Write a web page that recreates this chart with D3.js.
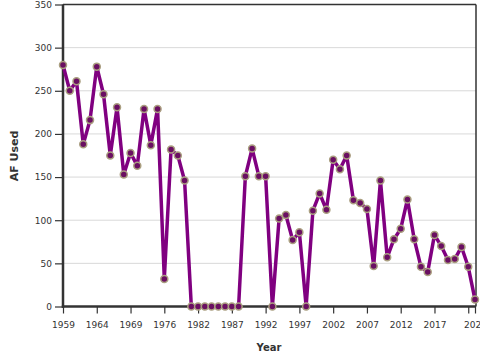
<!DOCTYPE html>
<html>
<head>
<meta charset="utf-8">
<script src="https://cdn.jsdelivr.net/npm/d3@7"></script>
<style>
  body { margin: 0; background: #fff; }
  svg { display: block; font-family: "DejaVu Sans", Verdana, sans-serif; }
</style>
</head>
<body>
<svg id="chart" width="480" height="360"></svg>
<script>
// years shown on the chart (a few early years are missing in the source)
var years = [1959, 1960, 1961, 1962, 1963, 1964, 1965, 1966, 1967, 1968, 1969,
  1970, 1972, 1973, 1975, 1976, 1977, 1978, 1979, 1981,
  1982, 1983, 1984, 1985, 1986, 1987, 1988, 1989, 1990, 1991, 1992, 1993, 1994,
  1995, 1996, 1997, 1998, 1999, 2000, 2001, 2002, 2003, 2004, 2005, 2006, 2007,
  2008, 2009, 2010, 2011, 2012, 2013, 2014, 2015, 2016, 2017, 2018, 2019, 2020,
  2021, 2022, 2023];

var afUsed = [280, 250, 261, 188, 216, 278, 246, 175, 231, 153, 178,
  163, 229, 187, 229, 32, 182, 175, 146, 0,
  0, 0, 0, 0, 0, 0, 0, 151, 183, 151, 151, 0, 102,
  106, 77, 86, 0, 111, 131, 112, 170, 159, 175, 123, 120, 113,
  47, 146, 57, 78, 90, 124, 78, 46, 40, 83, 70, 54, 55,
  69, 46, 8];

var yTicks = [0, 50, 100, 150, 200, 250, 300, 350];

var mLeft = 63, mRight = 476, mTop = 4.5, mBottom = 306.5;
var svg = d3.select("#chart");

var x = d3.scalePoint().domain(years).range([mLeft, 475]);
var y = d3.scaleLinear().domain([0, 350]).range([mBottom, mTop]);

// grid
svg.append("g").selectAll("line").data(yTicks.slice(1)).enter().append("line")
  .attr("x1", mLeft).attr("x2", mRight)
  .attr("y1", function (d) { return y(d); }).attr("y2", function (d) { return y(d); })
  .attr("stroke", "#d9d9d9").attr("stroke-width", 1);

// frame top / right
svg.append("line").attr("x1", mLeft).attr("x2", mRight).attr("y1", mTop).attr("y2", mTop)
  .attr("stroke", "#333").attr("stroke-width", 1.5);
svg.append("line").attr("x1", mRight).attr("x2", mRight).attr("y1", mTop).attr("y2", mBottom)
  .attr("stroke", "#333").attr("stroke-width", 1.5);

// x ticks every 5th category plus the last
var xTickVals = years.filter(function (d, i) { return i % 5 == 0; });
xTickVals.push(years[years.length - 1]);
var xLabelled = years.filter(function (d, i) { return i % 5 == 0 && i < 60; });
xLabelled.push(years[years.length - 1]);

var xAxis = svg.append("g").attr("transform", "translate(0," + mBottom + ")")
  .call(d3.axisBottom(x).tickValues(xTickVals).tickSizeOuter(0).tickSize(7).tickPadding(8)
    .tickFormat(function (d) { return xLabelled.indexOf(d) >= 0 ? d : ""; }));

var yAxis = svg.append("g").attr("transform", "translate(" + mLeft + ",0)")
  .call(d3.axisLeft(y).tickValues(yTicks).tickSizeOuter(0).tickSize(8).tickPadding(3));

[xAxis, yAxis].forEach(function (a) {
  a.select(".domain").attr("stroke", "#333").attr("stroke-width", 2.5);
  a.selectAll(".tick line").attr("stroke", "#333").attr("stroke-width", 1.2);
  a.selectAll(".tick text").attr("fill", "#333").style("font-size", "9px")
    .style("font-family", "DejaVu Sans, sans-serif");
});
// extend the domain lines to the corner
xAxis.select(".domain").attr("d", "M" + (mLeft - 1.2) + ",0H" + mRight);
yAxis.select(".domain").attr("d", "M0," + mTop + "V" + (mBottom + 1.2));

// line
var line = d3.line()
  .x(function (d, i) { return x(years[i]); })
  .y(function (d) { return y(d); });

svg.append("path").datum(afUsed)
  .attr("d", line)
  .attr("fill", "none")
  .attr("stroke", "#800080")
  .attr("stroke-width", 3.5)
  .attr("stroke-linejoin", "round");

svg.append("g").selectAll("circle").data(afUsed).enter().append("circle")
  .attr("cx", function (d, i) { return x(years[i]); })
  .attr("cy", function (d) { return y(d); })
  .attr("r", 3.5)
  .attr("fill", "#6a0f62")
  .attr("stroke", "#aa9f80")
  .attr("stroke-width", 1.5);

// axis titles
svg.append("text").attr("x", 269).attr("y", 351)
  .attr("text-anchor", "middle").attr("font-weight", "bold").attr("font-size", "10px")
  .attr("fill", "#333").text("Year");

svg.append("text").attr("transform", "translate(17.5,156) rotate(-90)")
  .attr("text-anchor", "middle").attr("font-weight", "bold").attr("font-size", "11px")
  .attr("fill", "#333").text("AF Used");
</script>
</body>
</html>
